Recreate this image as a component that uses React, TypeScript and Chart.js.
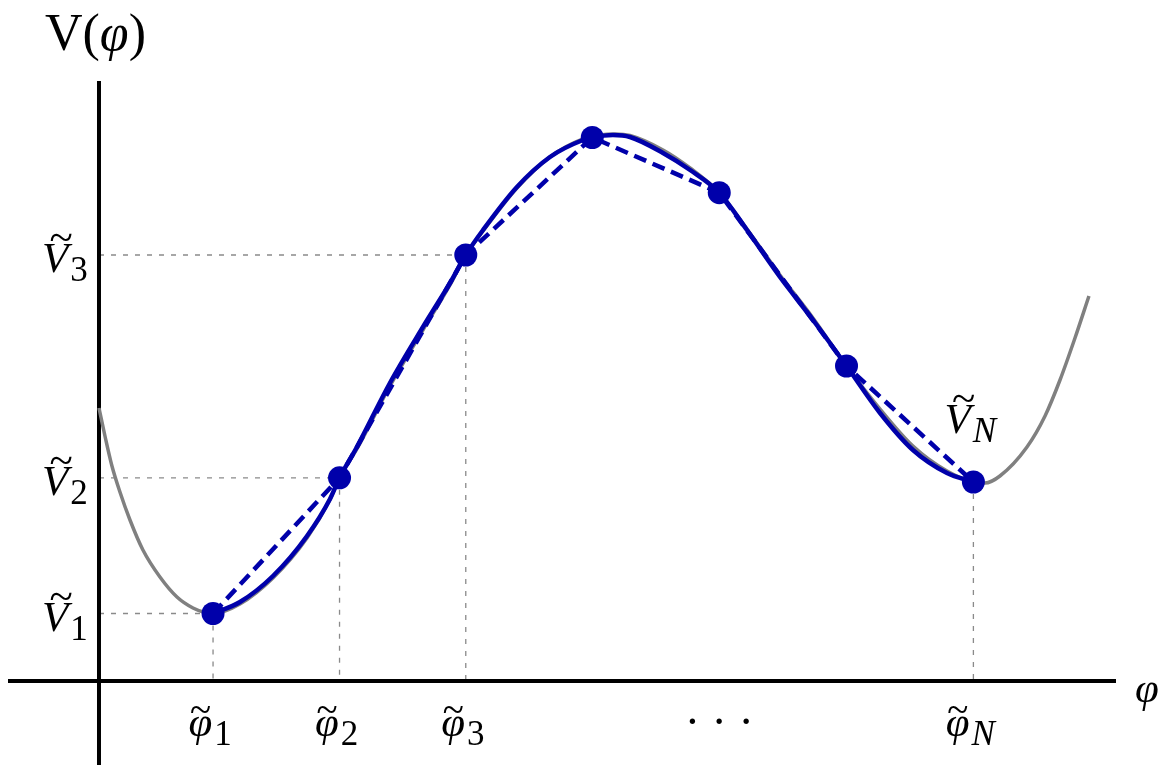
import React, { useEffect, useRef } from 'react';
import { Chart, registerables } from 'chart.js';

Chart.register(...registerables);

// Sample points (φ̃_i, Ṽ_i)
const phiTilde = [0.898, 1.894, 2.888, 3.884, 4.884, 5.886, 6.885];
const vTilde = [0.675, 2.032, 4.26, 5.435, 4.883, 3.15, 1.99];

// Smooth interpolating curve through the samples
const interpPhi = [0.898, 1.11, 1.37, 1.638, 1.819, 1.894, 2.031, 2.291, 2.551, 2.764, 2.888, 3.024, 3.291, 3.551, 3.811, 3.884, 4.047, 4.181, 4.441, 4.654, 4.884, 5.102, 5.362, 5.622, 5.886, 6.15, 6.409, 6.677, 6.885];
const interpV = [0.675, 0.79, 1.05, 1.45, 1.82, 2.032, 2.34, 2.98, 3.54, 3.98, 4.26, 4.51, 4.94, 5.24, 5.41, 5.435, 5.46, 5.44, 5.28, 5.11, 4.883, 4.51, 4.04, 3.61, 3.15, 2.68, 2.31, 2.08, 1.99];

// Underlying potential V(φ)
const potentialPhi = [0, 0.047, 0.102, 0.165, 0.244, 0.346, 0.48, 0.614, 0.74, 0.835, 0.898, 1.11, 1.37, 1.638, 1.819, 1.894, 2.031, 2.291, 2.551, 2.764, 2.888, 3.024, 3.291, 3.551, 3.811, 3.945, 4.063, 4.181, 4.441, 4.654, 4.884, 5.102, 5.362, 5.622, 5.886, 6.15, 6.409, 6.677, 6.885, 6.976, 7.094, 7.307, 7.449, 7.567, 7.685, 7.795];
const potentialV = [2.73, 2.45, 2.15, 1.89, 1.61, 1.31, 1.04, 0.84, 0.73, 0.685, 0.675, 0.77, 1.03, 1.43, 1.815, 2.032, 2.32, 2.95, 3.51, 3.96, 4.26, 4.5, 4.93, 5.24, 5.42, 5.46, 5.47, 5.455, 5.31, 5.13, 4.883, 4.52, 4.06, 3.63, 3.15, 2.72, 2.35, 2.1, 1.99, 1.98, 2.05, 2.34, 2.65, 3.01, 3.43, 3.85];

// Tick labels
const xTickIdx = [0, 1, 2, 6];
const xTickSubs = ['1', '2', '3', 'N'];
const yTickIdx = [0, 1, 2];
const yTickSubs = ['1', '2', '3'];
const ellipsisIdx = 4;
const endLabelIdx = 6;
const endLabelSub = 'N';
const xAxisTitle = 'φ';
const yAxisTitleParts = ['V(', 'φ', ')'];
const ellipsisText = '· · ·';

const X_MIN = -0.7165;
const X_MAX = 8.0079;
const Y_MIN = -0.84;
const Y_MAX = 6.0;

const SERIF = '"Liberation Serif", "Times New Roman", serif';
const BLUE = '#0000AA';
const GREY = '#808080';

function drawTilde(ctx: CanvasRenderingContext2D, cx: number, bottomY: number, size: number) {
  ctx.font = `${size}px ${SERIF}`;
  const m = ctx.measureText('~');
  const x = cx - (m.actualBoundingBoxRight - m.actualBoundingBoxLeft) / 2;
  const base = bottomY - m.actualBoundingBoxDescent;
  ctx.textAlign = 'left';
  ctx.textBaseline = 'alphabetic';
  ctx.fillText('~', x, base);
}

function drawTildeSymbol(
  ctx: CanvasRenderingContext2D,
  base: string,
  sub: string,
  x: number,
  baseline: number,
  align: 'left' | 'center',
  size: number,
  subSize: number,
  subDrop: number,
  tildeSize: number,
  tildeShift: number,
) {
  ctx.textAlign = 'left';
  ctx.textBaseline = 'alphabetic';
  ctx.fillStyle = '#000';
  ctx.font = `italic ${size}px ${SERIF}`;
  const mb = ctx.measureText(base);
  const subItalic = /[A-Za-z]/.test(sub);
  const subFont = `${subItalic ? 'italic ' : ''}${subSize}px ${SERIF}`;
  ctx.font = subFont;
  const ms = ctx.measureText(sub);
  const gap = 2;
  const total = mb.width + gap + ms.width;
  const x0 = align === 'center' ? x - total / 2 : x;
  ctx.font = `italic ${size}px ${SERIF}`;
  ctx.fillText(base, x0, baseline);
  const cx = x0 + (mb.actualBoundingBoxRight - mb.actualBoundingBoxLeft) / 2 + tildeShift;
  const top = baseline - mb.actualBoundingBoxAscent;
  drawTilde(ctx, cx, top - 3, tildeSize);
  ctx.font = subFont;
  ctx.fillText(sub, x0 + mb.width + gap, baseline + subDrop);
}

const decorPlugin = {
  id: 'decor',
  beforeDatasetsDraw(chart: any) {
    const ctx: CanvasRenderingContext2D = chart.ctx;
    const xs = chart.scales.x;
    const ys = chart.scales.y;
    const x0 = xs.getPixelForValue(0);
    const y0 = ys.getPixelForValue(0);
    const area = chart.chartArea;
    ctx.save();
    // guide lines
    ctx.strokeStyle = '#8a8a8a';
    ctx.lineWidth = 1.3;
    ctx.setLineDash([5, 7]);
    yTickIdx.forEach((i) => {
      const py = ys.getPixelForValue(vTilde[i]);
      const px = xs.getPixelForValue(phiTilde[i]);
      ctx.beginPath();
      ctx.moveTo(x0, py);
      ctx.lineTo(px, py);
      ctx.stroke();
    });
    xTickIdx.forEach((i) => {
      const py = ys.getPixelForValue(vTilde[i]);
      const px = xs.getPixelForValue(phiTilde[i]);
      ctx.beginPath();
      ctx.moveTo(px, py);
      ctx.lineTo(px, y0);
      ctx.stroke();
    });
    ctx.setLineDash([]);
    // axes
    ctx.strokeStyle = '#000';
    ctx.lineWidth = 4;
    ctx.beginPath();
    ctx.moveTo(area.left, y0);
    ctx.lineTo(area.right, y0);
    ctx.stroke();
    ctx.beginPath();
    ctx.moveTo(x0, area.top);
    ctx.lineTo(x0, area.bottom);
    ctx.stroke();
    ctx.restore();
  },
  afterDraw(chart: any) {
    const ctx: CanvasRenderingContext2D = chart.ctx;
    const xs = chart.scales.x;
    const ys = chart.scales.y;
    const x0 = xs.getPixelForValue(0);
    const y0 = ys.getPixelForValue(0);
    ctx.save();
    ctx.fillStyle = '#000';
    // y tick labels
    yTickIdx.forEach((i, k) => {
      const py = ys.getPixelForValue(vTilde[i]);
      drawTildeSymbol(ctx, 'V', yTickSubs[k], x0 - 57, py + 17, 'left', 43, 35, 9, 43, 3);
    });
    // x tick labels
    xTickIdx.forEach((i, k) => {
      const px = xs.getPixelForValue(phiTilde[i]);
      drawTildeSymbol(ctx, 'φ', xTickSubs[k], px - 3, y0 + 55, 'center', 43, 35, 9, 39, 0);
    });
    // ellipsis
    ctx.font = `46px ${SERIF}`;
    ctx.textAlign = 'center';
    ctx.textBaseline = 'middle';
    ctx.fillText(ellipsisText, xs.getPixelForValue(phiTilde[ellipsisIdx]), y0 + 44);
    // end label Ṽ_N
    {
      const px = xs.getPixelForValue(phiTilde[endLabelIdx]);
      const py = ys.getPixelForValue(vTilde[endLabelIdx]);
      drawTildeSymbol(ctx, 'V', endLabelSub, px - 29, py - 49, 'left', 43, 35, 9, 43, 3);
    }
    // x axis title
    ctx.textAlign = 'left';
    ctx.textBaseline = 'alphabetic';
    ctx.font = `italic 43px ${SERIF}`;
    ctx.fillText(xAxisTitle, chart.chartArea.right + 19, y0 + 21);
    // y axis title V(φ)
    let tx = x0 - 54;
    const tb = 50;
    yAxisTitleParts.forEach((p, k) => {
      ctx.font = `${k === 1 ? 'italic ' : ''}52px ${SERIF}`;
      ctx.fillText(p, tx, tb);
      tx += ctx.measureText(p).width;
    });
    ctx.restore();
  },
};

export default function App() {
  const ref = useRef<HTMLCanvasElement | null>(null);
  useEffect(() => {
    if (!ref.current) return;
    const pts = phiTilde.map((p, i) => ({ x: p, y: vTilde[i] }));
    const chart = new Chart(ref.current, {
      type: 'line',
      data: {
        datasets: [
          {
            label: 'Ṽ points',
            data: pts,
            showLine: false,
            pointRadius: 11.5,
            pointBackgroundColor: BLUE,
            pointBorderWidth: 0,
            order: 0,
          },
          {
            label: 'linear',
            data: pts,
            borderColor: BLUE,
            borderWidth: 4.5,
            borderDash: [13, 7],
            pointRadius: 0,
            tension: 0,
            order: 1,
          },
          {
            label: 'interpolation',
            data: interpPhi.map((p, i) => ({ x: p, y: interpV[i] })),
            borderColor: BLUE,
            borderWidth: 4.5,
            pointRadius: 0,
            cubicInterpolationMode: 'monotone',
            order: 2,
          },
          {
            label: 'V(φ)',
            data: potentialPhi.map((p, i) => ({ x: p, y: potentialV[i] })),
            borderColor: GREY,
            borderWidth: 3.5,
            pointRadius: 0,
            cubicInterpolationMode: 'monotone',
            order: 3,
          },
        ],
      } as any,
      options: {
        responsive: false,
        animation: false,
        events: [],
        layout: { autoPadding: false, padding: { left: 8, right: 60, top: 81, bottom: 0 } },
        scales: {
          x: { type: 'linear', min: X_MIN, max: X_MAX, display: false },
          y: { type: 'linear', min: Y_MIN, max: Y_MAX, display: false },
        },
        plugins: { legend: { display: false }, tooltip: { enabled: false } },
      } as any,
      plugins: [decorPlugin],
    });
    return () => chart.destroy();
  }, []);
  return (
    <div style={{ position: 'fixed', left: 0, top: 0, width: 1176, height: 765, background: '#fff' }}>
      <canvas ref={ref} width={1176} height={765} style={{ display: 'block' }} />
    </div>
  );
}
